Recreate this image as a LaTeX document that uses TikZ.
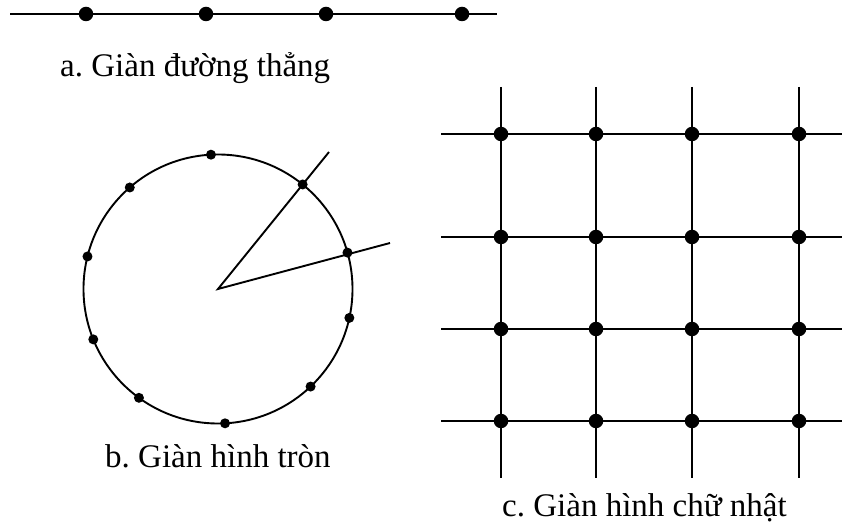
\documentclass[tikz,border=0pt]{standalone}
\usepackage{fontspec}
\setmainfont{Liberation Serif}
\usetikzlibrary{calc}
\begin{document}
\frenchspacing
\begin{tikzpicture}[x=1pt,y=-1pt,
  ln/.style={line width=1.9pt,black},
  bigdot/.style={circle,fill=black,inner sep=0pt,minimum size=14.5pt},
  cdot/.style={circle,fill=black,inner sep=0pt,minimum size=10pt},
  lbl/.style={anchor=base west,inner sep=0pt,font=\fontsize{33}{40}\selectfont}]
\useasboundingbox (0,0) rectangle (843,526);
% a. straight line lattice
\coordinate (aw) at (10,14);
\coordinate (ae) at (497,14);
\draw[ln] (aw) -- (ae);
\foreach \x [count=\i] in {86,206,326,462}
  \node[bigdot] (a\i) at (\x,14) {};
\node[lbl] (la) at (60,77) {a. Giàn đường thẳng};
% b. circle lattice
\coordinate (o) at (218,289);
\draw[ln] (o) circle[radius=134.5pt];
\foreach \t [count=\i] in {15.7,51,93,131,166,202,234,273,313.5,347.6}
  \node[cdot] (b\i) at ($(o)+(\t:134.5pt)$) {};
\coordinate (r1) at (329,152);
\coordinate (r2) at (390,243);
\draw[ln] (r1) -- (o) -- (r2);
\node[lbl] (lb) at (105,467) {b. Giàn hình tròn};
% c. rectangular lattice
\foreach \x [count=\i] in {501,596,692,799} {
  \coordinate (vt\i) at (\x,87);
  \coordinate (vb\i) at (\x,478);
  \draw[ln] (vt\i) -- (vb\i);
}
\foreach \y [count=\j] in {134,237,329,421} {
  \coordinate (hw\j) at (441,\y);
  \coordinate (he\j) at (842,\y);
  \draw[ln] (hw\j) -- (he\j);
}
\foreach \x [count=\i] in {501,596,692,799}
  \foreach \y [count=\j] in {134,237,329,421}
    \node[bigdot] (g\i\j) at (\x,\y) {};
\node[lbl] (lc) at (502,516) {c. Giàn hình chữ nhật};
\end{tikzpicture}
\end{document}
